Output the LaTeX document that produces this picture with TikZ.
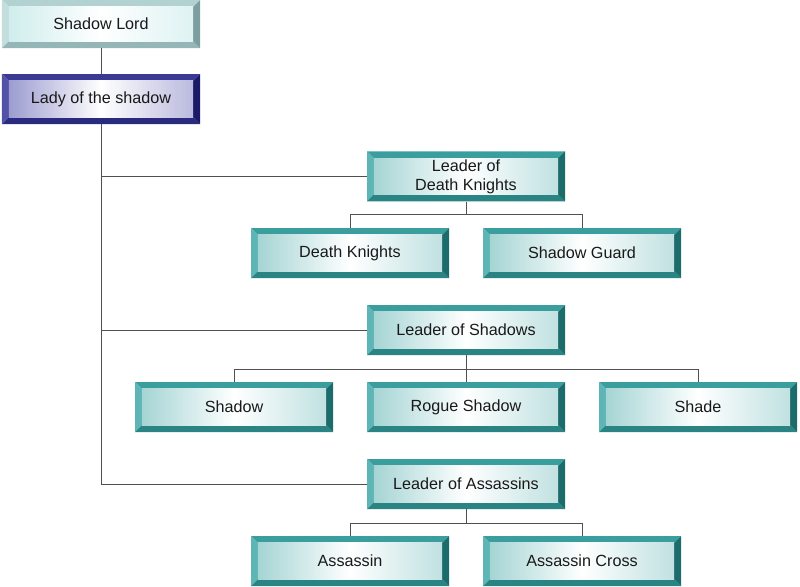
\documentclass[tikz,border=0pt]{standalone}
\usepackage{fontspec}
\setmainfont{Liberation Sans}

% bevel colours: L=left, T=top, B=bottom, R=right, I=inner tint
\definecolor{tealboxL}{HTML}{5DB5B5}
\definecolor{tealboxT}{HTML}{3A9E9E}
\definecolor{tealboxB}{HTML}{2A8484}
\definecolor{tealboxR}{HTML}{1C6C6C}
\definecolor{tealboxI}{HTML}{A6D4D4}
\definecolor{navyboxL}{HTML}{5252A8}
\definecolor{navyboxT}{HTML}{3A3A94}
\definecolor{navyboxB}{HTML}{2A2A7E}
\definecolor{navyboxR}{HTML}{1A1A66}
\definecolor{navyboxI}{HTML}{9C9CD0}
\definecolor{greyboxL}{HTML}{C4DEDE}
\definecolor{greyboxT}{HTML}{B2D2D2}
\definecolor{greyboxB}{HTML}{94B6B6}
\definecolor{greyboxR}{HTML}{7C9E9E}
\definecolor{greyboxI}{HTML}{D0EDED}
\definecolor{linkgrey}{HTML}{505050}

\newcommand\bw{0.17cm}
\newcommand\bevelbox[1]{%
  \coordinate (bvsw) at (path picture bounding box.south west);
  \coordinate (bvne) at (path picture bounding box.north east);
  \coordinate (bvnw) at (path picture bounding box.north west);
  \coordinate (bvse) at (path picture bounding box.south east);
  \fill[#1T] (bvnw) -- (bvne) -- ([shift={(-\bw,-\bw)}]bvne) -- ([shift={(\bw,-\bw)}]bvnw) -- cycle;
  \fill[#1L] (bvnw) -- (bvsw) -- ([shift={(\bw,\bw)}]bvsw) -- ([shift={(\bw,-\bw)}]bvnw) -- cycle;
  \fill[#1B] (bvsw) -- (bvse) -- ([shift={(-\bw,\bw)}]bvse) -- ([shift={(\bw,\bw)}]bvsw) -- cycle;
  \fill[#1R] (bvne) -- (bvse) -- ([shift={(-\bw,\bw)}]bvse) -- ([shift={(-\bw,-\bw)}]bvne) -- cycle;
  \shade[left color=#1I, right color=#1I!70, middle color=white]
    ([shift={(\bw,\bw)}]bvsw) rectangle ([shift={(-\bw,-\bw)}]bvne);}

\tikzset{
  unit/.style={rectangle, minimum width=4.95cm, minimum height=1.25cm,
    inner sep=2pt, align=center, text=black!90,
    font=\fontsize{11.5}{13.5}\selectfont},
  teal unit/.style={unit, path picture={\bevelbox{tealbox}}},
  navy unit/.style={unit, path picture={\bevelbox{navybox}}},
  grey unit/.style={unit, path picture={\bevelbox{greybox}}},
  link/.style={draw=linkgrey, line width=0.6pt}
}

\begin{document}
\begin{tikzpicture}
    \useasboundingbox (0,0) rectangle (20,-14.65);

    % Vertices
      \node[grey unit, minimum height=1.2cm] (lord) at (2.525,-0.6) {Shadow Lord};
      \node[navy unit] (lady) at (2.525,-2.475) {Lady of the shadow};

      \node[teal unit] (ldk) at (11.65,-4.41) {Leader of\\Death Knights};
      \node[teal unit] (dk) at (8.75,-6.325) {Death Knights};
      \node[teal unit] (sg) at (14.55,-6.325) {Shadow Guard};

      \node[teal unit] (lsh) at (11.65,-8.25) {Leader of Shadows};
      \node[teal unit] (sh) at (5.85,-10.175) {Shadow};
      \node[teal unit] (rs) at (11.65,-10.175) {Rogue Shadow};
      \node[teal unit] (shade) at (17.45,-10.175) {Shade};

      \node[teal unit] (las) at (11.65,-12.1) {Leader of Assassins};
      \node[teal unit] (as) at (8.75,-14.025) {Assassin};
      \node[teal unit] (ac) at (14.55,-14.025) {Assassin Cross};

      % Edges
      \draw[link] (lord) -- (lady);
      \draw[link] (lady) |- (ldk);
      \draw[link] (lady) |- (lsh);
      \draw[link] (lady) |- (las);

      \draw[link] (ldk.south) -- ++(0,-0.33) coordinate (ldkfork);
      \draw[link] (ldkfork) -| (dk);
      \draw[link] (ldkfork) -| (sg);

      \draw[link] (lsh) -- (rs);
      \path (lsh.south) -- ++(0,-0.36) coordinate (lshfork);
      \draw[link] (lshfork) -| (sh);
      \draw[link] (lshfork) -| (shade);

      \draw[link] (las.south) -- ++(0,-0.36) coordinate (lasfork);
      \draw[link] (lasfork) -| (as);
      \draw[link] (lasfork) -| (ac);
  \end{tikzpicture}
\end{document}
